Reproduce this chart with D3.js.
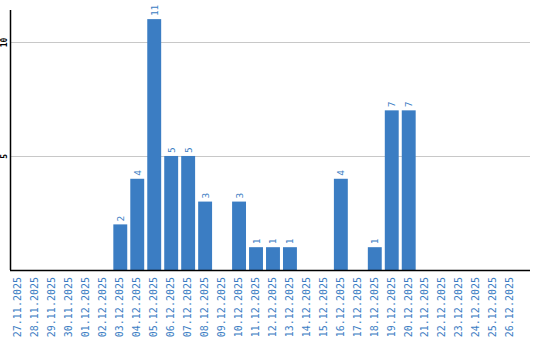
<!DOCTYPE html>
<html><head><meta charset="utf-8">
<script src="https://cdn.jsdelivr.net/npm/d3@7"></script>
<style>body{margin:0;background:#fff}svg{display:block}</style>
</head><body><svg id="c" width="540" height="340"></svg>
<script>
const categories = ["27.11.2025","28.11.2025","29.11.2025","30.11.2025","01.12.2025","02.12.2025","03.12.2025","04.12.2025","05.12.2025","06.12.2025","07.12.2025","08.12.2025","09.12.2025","10.12.2025","11.12.2025","12.12.2025","13.12.2025","14.12.2025","15.12.2025","16.12.2025","17.12.2025","18.12.2025","19.12.2025","20.12.2025","21.12.2025","22.12.2025","23.12.2025","24.12.2025","25.12.2025","26.12.2025"];
const values = [0,0,0,0,0,0,2,4,11,5,5,3,0,3,1,1,1,0,0,4,0,1,7,7,0,0,0,0,0,0];
const yTicks = [5,10];

(function(){
const svg = d3.select("#c");
const mLeft = 10, mRight = 530, mTop = 10, mBottom = 270;
const blue = "#3b7dc3";
const x = d3.scaleBand().domain(categories).range([mLeft, 519]).paddingInner(0.18).paddingOuter(0.09);
const y = d3.scaleLinear().domain([0, 11.4]).range([mBottom, mTop]);
const data = categories.map((c,i)=>({c, v: values[i]})).filter(d=>d.v>0);

svg.append("g").selectAll("line").data(yTicks).join("line")
  .attr("x1", mLeft).attr("x2", mRight)
  .attr("y1", d => Math.round(y(d)) + 0.5).attr("y2", d => Math.round(y(d)) + 0.5)
  .attr("stroke", "#c8c8c8").attr("stroke-width", 1);

svg.append("g").selectAll("rect").data(data).join("rect")
  .attr("x", d => x(d.c)).attr("width", x.bandwidth())
  .attr("y", d => y(d.v)).attr("height", d => y(0) - y(d.v))
  .attr("fill", blue);

svg.append("g").selectAll("text").data(data).join("text")
  .attr("transform", d => `translate(${x(d.c) + x.bandwidth()/2 + 3.5},${y(d.v) - 3}) rotate(-90)`)
  .attr("text-anchor", "start")
  .attr("font-family", "DejaVu Sans Mono, monospace").attr("font-size", 9.5)
  .attr("fill", blue).text(d => d.v);

const gx = svg.append("g").attr("transform", `translate(0,${mBottom})`).call(d3.axisBottom(x).tickSize(0).tickPadding(0));
gx.select(".domain").remove();
gx.selectAll("text")
  .attr("font-family", "DejaVu Sans Mono, monospace").attr("font-size", 10)
  .attr("fill", blue)
  .attr("text-anchor", "end")
  .attr("dy", null).attr("y", null)
  .attr("transform", "translate(2.8,7) rotate(-90)");
svg.append("line").attr("x1", mLeft).attr("x2", mRight).attr("y1", mBottom+0.5).attr("y2", mBottom+0.5)
  .attr("stroke", "#000").attr("stroke-width", 1.5);

const gy = svg.append("g").attr("transform", `translate(${mLeft},0)`).call(d3.axisLeft(y).tickValues(yTicks).tickSize(0).tickPadding(0));
gy.select(".domain").remove();
gy.selectAll("text")
  .attr("font-family", "DejaVu Sans Mono, monospace").attr("font-size", 8).attr("font-weight", "bold")
  .attr("fill", "#000").attr("text-anchor", "middle")
  .attr("x", null).attr("dy", null)
  .attr("transform", "translate(-3,0) rotate(-90)");
svg.append("line").attr("x1", mLeft+0.5).attr("x2", mLeft+0.5).attr("y1", mTop).attr("y2", mBottom)
  .attr("stroke", "#000").attr("stroke-width", 1.5);
})();
</script></body></html>
